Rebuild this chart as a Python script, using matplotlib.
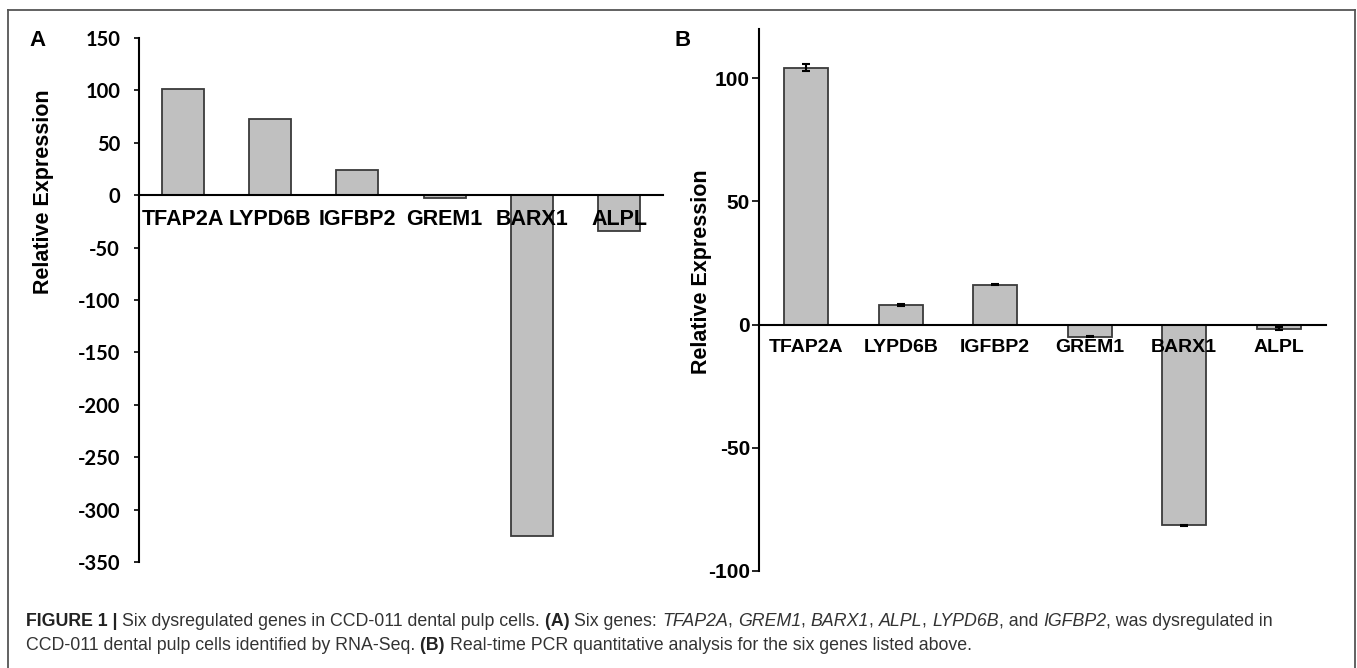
import matplotlib
matplotlib.use('Agg')
import matplotlib.pyplot as plt
from matplotlib.lines import Line2D

plt.rcParams['axes.unicode_minus'] = False

genes = ['TFAP2A', 'LYPD6B', 'IGFBP2', 'GREM1', 'BARX1', 'ALPL']
# panel A: RNA-Seq fold change
rnaseq = [101, 73, 24, -3, -325, -34]
# panel B: real-time PCR
qpcr = [104.3, 8.0, 16.2, -4.9, -81.5, -1.6]
qpcr_err = [1.3, 0.3, 0.3, 0.3, 0.3, 0.6]

W, H = 1357, 668
fig = plt.figure(figsize=(W / 100, H / 100), dpi=100)

def px_axes(l, t, r, b):
    return fig.add_axes([l / W, 1 - b / H, (r - l) / W, (b - t) / H])

bar_fc = '#c0c0c0'
bar_ec = '#3a3a3a'
x = list(range(len(genes)))

# ---- panel A
axA = px_axes(139, 38, 663, 562)
axA.bar(x, rnaseq, width=0.48, color=bar_fc, edgecolor=bar_ec, linewidth=1.3, zorder=1)
axA.set_xlim(-0.5, 5.5)
axA.set_ylim(-350, 150)
axA.set_yticks(range(-350, 151, 50))
axA.spines['top'].set_visible(False)
axA.spines['right'].set_visible(False)
axA.spines['bottom'].set_position(('data', 0))
for s in ('left', 'bottom'):
    axA.spines[s].set_linewidth(1.5)
axA.set_xticks(x)
axA.set_xticklabels(genes, fontsize=15.5, fontweight='bold', family='Liberation Sans')
axA.tick_params(axis='x', length=0, pad=10)
axA.tick_params(axis='y', direction='out', length=3.6, width=1.2, pad=10)
for lab in axA.get_yticklabels():
    lab.set_fontsize(14.5)
    lab.set_fontweight('bold')
    lab.set_family('Lato')
axA.set_facecolor('none')
fig.text(44 / W, 1 - 192 / H, 'Relative Expression', rotation=90, ha='center', va='center',
         fontsize=15.5, fontweight='bold', family='Liberation Sans')
fig.text(38 / W, 1 - 40 / H, 'A', ha='center', va='center', fontsize=16,
         fontweight='bold', family='Liberation Sans')

# ---- panel B
axB = px_axes(759, 29, 1326, 571)
axB.bar(x, qpcr, width=0.47, color=bar_fc, edgecolor=bar_ec, linewidth=1.3, zorder=1)
axB.errorbar(x, qpcr, yerr=qpcr_err, fmt='none', ecolor='black', elinewidth=1.5,
             capsize=3, capthick=1.5, zorder=3)
axB.set_xlim(-0.5, 5.5)
axB.set_ylim(-100, 120)
axB.set_yticks([-100, -50, 0, 50, 100])
axB.spines['top'].set_visible(False)
axB.spines['right'].set_visible(False)
axB.spines['bottom'].set_position(('data', 0))
for s in ('left', 'bottom'):
    axB.spines[s].set_linewidth(1.5)
axB.set_xticks(x)
axB.set_xticklabels(genes, fontsize=14, fontweight='bold', family='Liberation Sans')
axB.tick_params(axis='x', length=0, pad=10)
axB.tick_params(axis='y', direction='out', length=5, width=1.2, pad=1.5)
for lab in axB.get_yticklabels():
    lab.set_fontsize(15)
    lab.set_fontweight('bold')
    lab.set_family('Liberation Sans')
axB.set_facecolor('none')
fig.text(701 / W, 1 - 272 / H, 'Relative Expression', rotation=90, ha='center', va='center',
         fontsize=15.5, fontweight='bold', family='Liberation Sans')
fig.text(683 / W, 1 - 40 / H, 'B', ha='center', va='center', fontsize=16,
         fontweight='bold', family='Liberation Sans')

# ---- frame around the figure
frame = '#555555'
for xs, ys in [([8, 8], [10, H]), ([8, 1355], [10, 10]), ([1355, 1355], [10, H])]:
    fig.add_artist(Line2D([v / W for v in xs], [1 - v / H for v in ys],
                          color=frame, linewidth=1.3, transform=fig.transFigure))

# ---- caption, drawn piece by piece (bold / italic runs)
cap_size = 12.8
renderer = fig.canvas.get_renderer()

def text_width(s, **kw):
    # width incl. trailing spaces: measure with a marker and take it off again
    t1 = fig.text(0, 0, s + '|', fontsize=cap_size, family='Liberation Sans', **kw)
    t2 = fig.text(0, 0, '|', fontsize=cap_size, family='Liberation Sans', **kw)
    w = t1.get_window_extent(renderer).width - t2.get_window_extent(renderer).width
    t1.remove()
    t2.remove()
    return w

def rich_line(x0, y0, parts):
    xpos = x0
    for s, style in parts:
        kw = {}
        if style == 'b':
            kw = dict(fontweight='bold')
        elif style == 'i':
            kw = dict(fontstyle='italic')
        col = '#222222' if style == 'b' else '#333333'
        fig.text(xpos / W, 1 - y0 / H, s, ha='left', va='center', fontsize=cap_size,
                 family='Liberation Sans', color=col, **kw)
        xpos += text_width(s, **kw)

line1 = [('FIGURE 1 | ', 'b'), ('Six dysregulated genes in CCD-011 dental pulp cells. ', 'r'),
         ('(A) ', 'b'), ('Six genes: ', 'r'), ('TFAP2A', 'i'), (', ', 'r'), ('GREM1', 'i'),
         (', ', 'r'), ('BARX1', 'i'), (', ', 'r'), ('ALPL', 'i'), (', ', 'r'), ('LYPD6B', 'i'),
         (', and ', 'r'), ('IGFBP2', 'i'), (', was dysregulated in', 'r')]
line2 = [('CCD-011 dental pulp cells identified by RNA-Seq. ', 'r'), ('(B) ', 'b'),
         ('Real-time PCR quantitative analysis for the six genes listed above.', 'r')]
rich_line(26, 621, line1)
rich_line(26, 645, line2)

fig.savefig('out.png', dpi=100)
